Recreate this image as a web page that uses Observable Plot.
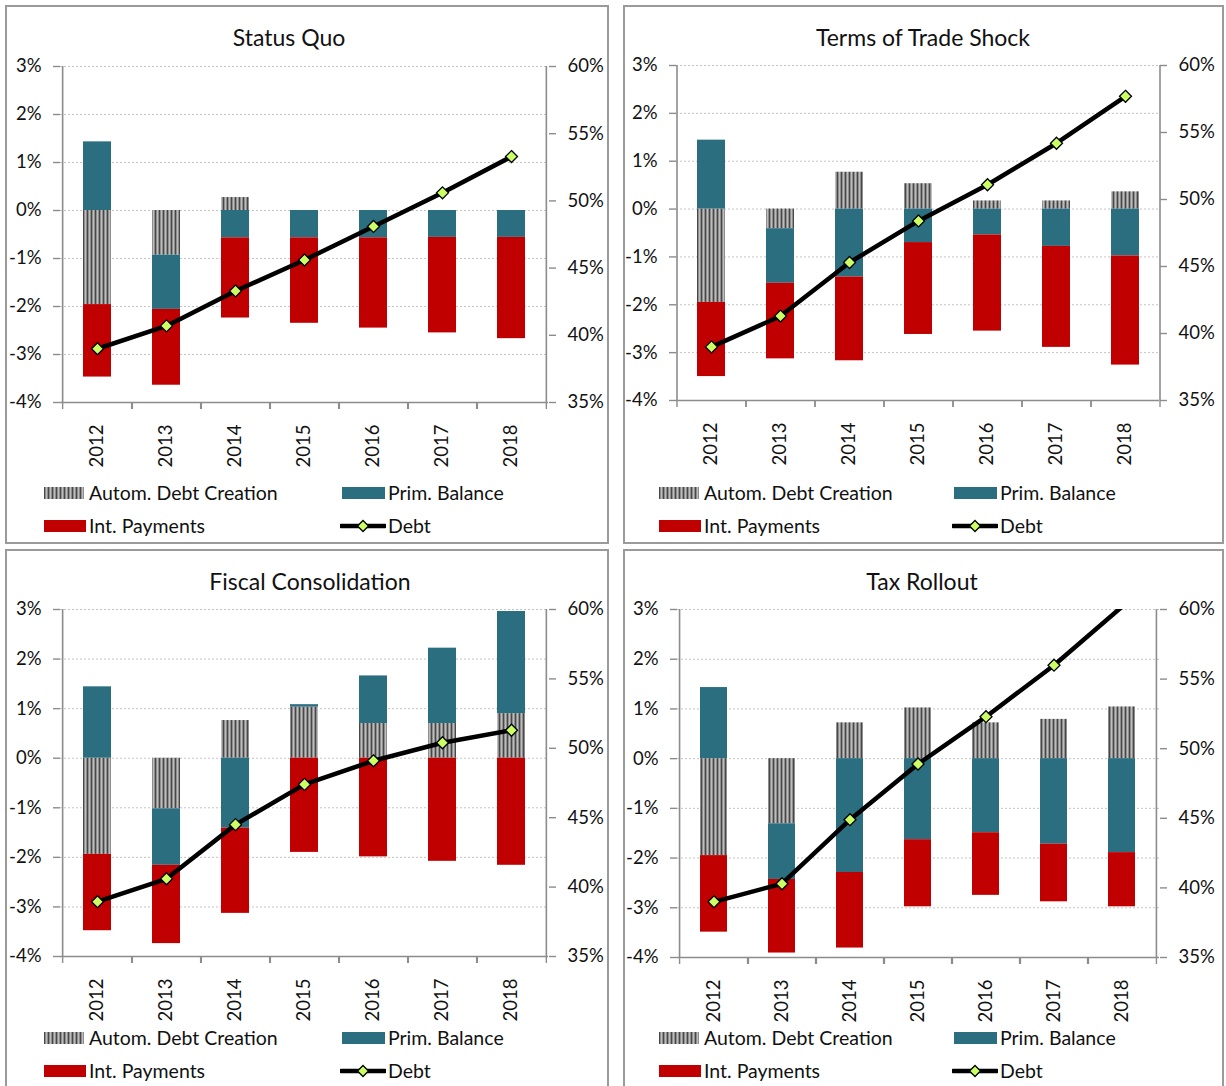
<!DOCTYPE html>
<html><head><meta charset="utf-8">
<script src="https://cdn.jsdelivr.net/npm/d3@7"></script>
<script src="https://cdn.jsdelivr.net/npm/@observablehq/plot@0.6"></script>
<style>
body{margin:0;background:#fff;font-family:Lato,"DejaVu Sans",sans-serif;}
#root{position:relative;width:1226px;height:1086px;overflow:hidden;background:#fff;}
.panel{position:absolute;box-sizing:border-box;border:2px solid #9a9a9a;background:#fff;}
.title{position:absolute;font-size:23px;color:#111;white-space:nowrap;transform:translate(-50%,-50%);}
.leg{position:absolute;font-size:19.5px;white-space:nowrap;transform:translateY(-50%);color:#111;line-height:1;}
.sw{position:absolute;transform:translateY(-50%);}
svg.plotsvg{position:absolute;overflow:visible;}
</style></head><body><div id="root"></div><script>
// ---- data ----
const years = [2012, 2013, 2014, 2015, 2016, 2017, 2018];
const seriesNames = ["Autom. Debt Creation", "Prim. Balance", "Int. Payments"];
const titles = ["Status Quo", "Terms of Trade Shock", "Fiscal Consolidation", "Tax Rollout"];
const leftTicks = [-4, -3, -2, -1, 0, 1, 2, 3];
const rightTicks = [35, 40, 45, 50, 55, 60];

const sqADC  = [-1.96, -0.93, 0.27, 0, 0, 0, 0];
const sqPB   = [1.43, -1.13, -0.57, -0.57, -0.57, -0.56, -0.56];
const sqIP   = [-1.51, -1.58, -1.67, -1.78, -1.88, -1.99, -2.11];
const sqDebt = [39.0, 40.7, 43.3, 45.6, 48.1, 50.6, 53.3];

const totADC  = [-1.95, -0.41, 0.77, 0.53, 0.17, 0.17, 0.36];
const totPB   = [1.44, -1.14, -1.42, -0.70, -0.54, -0.78, -0.98];
const totIP   = [-1.55, -1.58, -1.75, -1.92, -2.01, -2.11, -2.28];
const totDebt = [39.0, 41.3, 45.3, 48.4, 51.1, 54.2, 57.7];

const fcADC  = [-1.94, -1.02, 0.76, 1.03, 0.70, 0.70, 0.90];
const fcPB   = [1.44, -1.14, -1.41, 0.05, 0.96, 1.52, 2.06];
const fcIP   = [-1.54, -1.58, -1.72, -1.90, -1.99, -2.08, -2.16];
const fcDebt = [38.95, 40.6, 44.5, 47.4, 49.1, 50.4, 51.3];

const trADC  = [-1.95, -1.31, 0.72, 1.02, 0.72, 0.79, 1.04];
const trPB   = [1.43, -1.12, -2.29, -1.63, -1.49, -1.72, -1.89];
const trIP   = [-1.54, -1.48, -1.52, -1.35, -1.26, -1.16, -1.09];
const trDebt = [39.0, 40.3, 44.9, 48.9, 52.3, 56.0, 60.2];

// ---- layout ----
const panels = [
  {left: 5,   top: 5,   width: 604, height: 539, plotL: 60,  plotR: 548,  plotT: 66,  plotB: 402, titleX: 289, titleY: 37,  lx1: 44,  lx2: 342, ly1: 493,  ly2: 526,  adc: sqADC,  pb: sqPB,  ip: sqIP,  debt: sqDebt},
  {left: 623, top: 5,   width: 601, height: 539, plotL: 676, plotR: 1159, plotT: 65,  plotB: 400, titleX: 923, titleY: 37,  lx1: 659, lx2: 954, ly1: 493,  ly2: 526,  adc: totADC, pb: totPB, ip: totIP, debt: totDebt},
  {left: 5,   top: 549, width: 604, height: 539, plotL: 60,  plotR: 548,  plotT: 609, plotB: 956, titleX: 310, titleY: 581, lx1: 44,  lx2: 342, ly1: 1038, ly2: 1071, adc: fcADC,  pb: fcPB,  ip: fcIP,  debt: fcDebt},
  {left: 623, top: 549, width: 601, height: 539, plotL: 677, plotR: 1159, plotT: 609, plotB: 957, titleX: 922, titleY: 581, lx1: 659, lx2: 954, ly1: 1038, ly2: 1071, adc: trADC,  pb: trPB,  ip: trIP,  debt: trDebt}
];

const yMin = leftTicks[0], yMax = leftTicks[leftTicks.length - 1];
const rMin = rightTicks[0], rMax = rightTicks[rightTicks.length - 1];
const toLeft = v => (v - rMin) / (rMax - rMin) * (yMax - yMin) + yMin;
const fromLeft = v => (v - yMin) / (yMax - yMin) * (rMax - rMin) + rMin;
const axisColor = "#8c8c8c";
const colors = ["#2B6E80", "#C00000"];

const root = document.getElementById("root");

panels.forEach((cfg, i) => {
  const div = document.createElement("div");
  div.className = "panel";
  Object.assign(div.style, {left: cfg.left + "px", top: cfg.top + "px", width: cfg.width + "px", height: cfg.height + "px"});
  root.appendChild(div);
  const L = cfg.left + 2, T = cfg.top + 2, innerW = cfg.width - 4;

  const mt = 30, mb = 75;
  const ml = cfg.plotL - L, mr = L + innerW - cfg.plotR;
  const h = mt + (cfg.plotB - cfg.plotT) + mb;
  const step = (cfg.plotR - cfg.plotL) / years.length;

  const rows = [];
  years.forEach((y, j) => {
    rows.push({year: y, series: seriesNames[0], value: cfg.adc[j]});
    rows.push({year: y, series: seriesNames[1], value: cfg.pb[j]});
    rows.push({year: y, series: seriesNames[2], value: cfg.ip[j]});
  });
  const debtRows = years.map((y, j) => ({year: y, debt: cfg.debt[j]}));

  const chart = Plot.plot({
    width: innerW, height: h,
    marginTop: mt, marginBottom: mb, marginLeft: ml, marginRight: mr,
    style: {fontFamily: "Lato, sans-serif", fontSize: "18.5px", color: "#111", background: "transparent", overflow: "visible"},
    x: {type: "band", domain: years, paddingInner: 0.6, paddingOuter: 0.3},
    y: {domain: [yMin, yMax]},
    color: {type: "ordinal", domain: seriesNames, range: [`url(#adc${i})`, colors[0], colors[1]]},
    marks: [
      Plot.ruleY(leftTicks, {stroke: "#c4c4c4", strokeDasharray: "2,2", strokeWidth: 1}),
      Plot.barY(rows, {x: "year", y: "value", fill: "series", z: "series", order: seriesNames}),
      Plot.ruleY([yMin], {stroke: axisColor, strokeWidth: 1.6}),
      Plot.ruleX([years[0]], {x: d => d, dx: -step / 2, y1: yMin, y2: yMax, stroke: axisColor, strokeWidth: 1.6}),
      Plot.ruleX([years[years.length - 1]], {x: d => d, dx: step / 2, y1: yMin, y2: yMax, stroke: axisColor, strokeWidth: 1.6}),
      Plot.axisY(leftTicks, {anchor: "left", tickSize: 7, tickPadding: 12, tickFormat: d => d + "%", stroke: axisColor, strokeWidth: 1.4, label: null}),
      Plot.axisY(rightTicks.map(toLeft), {anchor: "right", tickSize: 7, tickPadding: 12, tickFormat: d => Math.round(fromLeft(d)) + "%", stroke: axisColor, strokeWidth: 1.4, label: null}),
      Plot.axisX(years, {tickSize: 0, tickPadding: 22, tickRotate: -90, label: null, tickFormat: d => String(d)}),
      Plot.axisX(years, {tickSize: 7, dx: -step / 2, tickFormat: () => "", stroke: axisColor, strokeWidth: 1.4, label: null}),
      Plot.axisX(years, {tickSize: 7, dx: step / 2, tickFormat: () => "", stroke: axisColor, strokeWidth: 1.4, label: null}),
      Plot.lineY(debtRows, {x: "year", y: d => toLeft(d.debt), stroke: "#000", strokeWidth: 4.5, clip: true}),
      Plot.dot(debtRows.filter(d => d.debt <= rMax), {x: "year", y: d => toLeft(d.debt), symbol: "diamond2", r: 5.4, fill: "#CCFF66", stroke: "#000", strokeWidth: 1.3})
    ]
  });
  d3.select(chart).insert("defs", ":first-child").html(
    `<pattern id="adc${i}" patternUnits="userSpaceOnUse" width="4" height="4">` +
    `<rect width="4" height="4" fill="#8e8e8e"/><rect x="0" width="1" height="4" fill="#474747"/>` +
    `<rect x="2" width="1" height="4" fill="#bdbdbd"/></pattern>`);
  chart.classList.add("plotsvg");
  chart.style.left = "0px";
  chart.style.top = (cfg.plotT - mt - T) + "px";
  div.appendChild(chart);

  // title
  const t = document.createElement("div");
  t.className = "title";
  t.textContent = titles[i];
  t.style.left = (cfg.titleX - L) + "px";
  t.style.top = (cfg.titleY - T) + "px";
  div.appendChild(t);

  // legend
  const addSwatch = (x, y, w, hgt, bg) => {
    const s = document.createElement("div");
    s.className = "sw";
    Object.assign(s.style, {left: (x - L) + "px", top: (y - T) + "px", width: w + "px", height: hgt + "px", background: bg});
    div.appendChild(s);
  };
  const addText = (x, y, txt) => {
    const s = document.createElement("div");
    s.className = "leg";
    s.textContent = txt;
    s.style.left = (x - L) + "px";
    s.style.top = (y - T) + "px";
    div.appendChild(s);
  };
  addSwatch(cfg.lx1, cfg.ly1, 40, 12, "repeating-linear-gradient(90deg,#474747 0 1px,#8e8e8e 1px 2px,#bdbdbd 2px 3px,#8e8e8e 3px 4px)");
  addText(cfg.lx1 + 45, cfg.ly1, seriesNames[0]);
  addSwatch(cfg.lx2, cfg.ly1, 43, 12, colors[0]);
  addText(cfg.lx2 + 46, cfg.ly1, seriesNames[1]);
  addSwatch(cfg.lx1, cfg.ly2, 42, 12, colors[1]);
  addText(cfg.lx1 + 45, cfg.ly2, seriesNames[2]);
  const ns = "http://www.w3.org/2000/svg";
  const ls = document.createElementNS(ns, "svg");
  ls.setAttribute("width", 46); ls.setAttribute("height", 16);
  Object.assign(ls.style, {position: "absolute", left: (cfg.lx2 - 2 - L) + "px", top: (cfg.ly2 - 8 - T) + "px"});
  ls.innerHTML = `<line x1="1" x2="45" y1="8" y2="8" stroke="#000" stroke-width="4.5" stroke-linecap="round"/>` +
    `<path d="M23,2.5L28.5,8L23,13.5L17.5,8Z" fill="#CCFF66" stroke="#000" stroke-width="1.3"/>`;
  div.appendChild(ls);
  addText(cfg.lx2 + 46, cfg.ly2, "Debt");
});
</script></body></html>
